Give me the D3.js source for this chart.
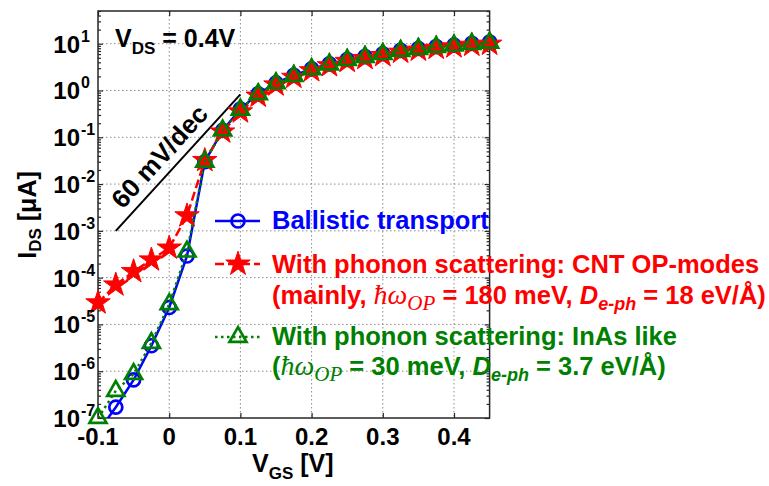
<!DOCTYPE html>
<html>
<head>
<meta charset="utf-8">
<script src="https://cdn.jsdelivr.net/npm/d3@7"></script>
<style>
  body { margin: 0; background: #fff; }
  svg { display: block; font-family: "Liberation Sans", Arial, sans-serif; font-weight: bold; }
  text { white-space: pre; }
</style>
</head>
<body>
<svg id="chart" width="769" height="486"></svg>
<script>
// gate voltage [V]
const vgs = [-0.1, -0.075, -0.05, -0.025, 0, 0.025, 0.05, 0.075, 0.1, 0.125, 0.15, 0.175,
  0.2, 0.225, 0.25, 0.275, 0.3, 0.325, 0.35, 0.375, 0.4, 0.425, 0.45];

// drain current [uA]
const ballistic = [5e-8, 1.7e-7, 6.5e-7, 3.5e-6, 2.3e-5, 2.9e-4, 3.0e-2, 0.14, 0.40, 0.85,
  1.45, 2.1, 2.9, 3.7, 4.6, 5.3, 6.1, 7.2, 7.9, 8.7, 9.3, 10.2, 10.8];
const cntPhonon = [2.9e-5, 7.0e-5, 1.35e-4, 2.4e-4, 4.3e-4, 2.1e-3, 3.2e-2, 0.13, 0.35, 0.76,
  1.32, 1.92, 2.65, 3.4, 4.2, 4.85, 5.6, 6.6, 7.3, 8.0, 8.6, 9.3, 9.8];
const inasPhonon = [1.0e-7, 3.8e-7, 8.7e-7, 4.0e-6, 2.7e-5, 3.6e-4, 3.0e-2, 0.14, 0.39, 0.83,
  1.42, 2.05, 2.85, 3.6, 4.5, 5.2, 6.0, 7.0, 7.7, 8.5, 9.1, 9.9, 10.5];

// 60 mV/dec guide line
const slopeVgs = [-0.075, 0.1];
const slopeIds = [1e-3, 0.825];

const xTicks = [-0.1, 0, 0.1, 0.2, 0.3, 0.4];
const xTickLabels = ["-0.1", "0", "0.1", "0.2", "0.3", "0.4"];
const yExponents = [-7, -6, -5, -4, -3, -2, -1, 0, 1];

const MARGIN = { left: 98, right: 769 - 489.6, top: 11, bottom: 486 - 418 };
const W = 769, H = 486;

const series = [
  { key: "ballistic", values: ballistic, color: "#0000ff", dash: null, marker: "circle" },
  { key: "cnt", values: cntPhonon, color: "#ff0000", dash: "9,4", marker: "star" },
  { key: "inas", values: inasPhonon, color: "#008000", dash: "2.5,3.5", marker: "triangle" }
];

const svg = d3.select("#chart");

const x = d3.scaleLinear()
  .domain([-0.1, 0.45])
  .range([MARGIN.left, W - MARGIN.right]);
const y = d3.scaleLog()
  .domain([1e-7, 50])
  .range([H - MARGIN.bottom, MARGIN.top]);

const [x0, x1] = x.range();
const [y0, y1] = y.range();

svg.append("defs").append("clipPath").attr("id", "plot-clip")
  .append("rect")
  .attr("x", x0).attr("y", y1)
  .attr("width", x1 - x0).attr("height", y0 - y1);

// grid
const grid = svg.append("g").attr("class", "grid")
  .attr("stroke", "#8c8c8c").attr("stroke-width", 1).attr("stroke-dasharray", "1.5,2.5");
grid.selectAll("line.v")
  .data(xTicks.filter(d => d > -0.1))
  .join("line")
  .attr("class", "v")
  .attr("x1", d => x(d)).attr("x2", d => x(d))
  .attr("y1", y1).attr("y2", y0);
grid.selectAll("line.h")
  .data(yExponents.filter(e => e > -7).map(e => Math.pow(10, e)))
  .join("line")
  .attr("class", "h")
  .attr("x1", x0).attr("x2", x1)
  .attr("y1", d => y(d)).attr("y2", d => y(d));

// box
svg.append("rect")
  .attr("x", x0).attr("y", y1)
  .attr("width", x1 - x0).attr("height", y0 - y1)
  .attr("fill", "none").attr("stroke", "#262626").attr("stroke-width", 1.5);

// ticks (inward, all four sides)
const majorY = yExponents.map(e => Math.pow(10, e));
const minorY = y.ticks().filter(d => Math.abs(Math.log10(d) - Math.round(Math.log10(d))) > 1e-6);

const tickAxis = (axis, tx, ty) => {
  const g = svg.append("g").attr("transform", `translate(${tx},${ty})`).call(axis);
  g.select(".domain").remove();
  g.selectAll("line").attr("stroke", "#262626").attr("stroke-width", 1.2);
  return g;
};
tickAxis(d3.axisBottom(x).tickValues(xTicks).tickSize(-5).tickFormat(""), 0, y0);
tickAxis(d3.axisTop(x).tickValues(xTicks).tickSize(-5).tickFormat(""), 0, y1);
tickAxis(d3.axisLeft(y).tickValues(majorY).tickSize(-5).tickFormat(""), x0, 0);
tickAxis(d3.axisLeft(y).tickValues(minorY).tickSize(-3).tickFormat(""), x0, 0);
tickAxis(d3.axisRight(y).tickValues(majorY).tickSize(-5).tickFormat(""), x1, 0);
tickAxis(d3.axisRight(y).tickValues(minorY).tickSize(-3).tickFormat(""), x1, 0);

// 60 mV/dec guide
svg.append("line")
  .attr("x1", x(slopeVgs[0])).attr("y1", y(slopeIds[0]))
  .attr("x2", x(slopeVgs[1])).attr("y2", y(slopeIds[1]))
  .attr("stroke", "#000").attr("stroke-width", 2);

{
  const ax = x(slopeVgs[0]), ay = y(slopeIds[0]);
  const bx = x(slopeVgs[1]), by = y(slopeIds[1]);
  const len = Math.hypot(bx - ax, by - ay);
  const ux = (bx - ax) / len, uy = (by - ay) / len;
  const nx = uy, ny = -ux; // normal pointing up-left
  const angle = Math.atan2(by - ay, bx - ax) * 180 / Math.PI;
  const cx = (ax + bx) / 2 - 8 * ux + 9 * nx;
  const cy = (ay + by) / 2 - 8 * uy + 9 * ny;
  svg.append("text")
    .attr("transform", `translate(${cx},${cy}) rotate(${angle})`)
    .attr("text-anchor", "middle")
    .attr("font-size", 26)
    .text("60 mV/dec");
}

// series
const markerPath = {
  circle: d3.symbol().type(d3.symbolCircle).size(Math.PI * 6.5 * 6.5)(),
  star: d3.symbol().type(d3.symbolStar).size(185)(),
  triangle: d3.symbol().type(d3.symbolTriangle).size(125)()
};

const line = d3.line()
  .x(d => x(d[0]))
  .y(d => y(d[1]));

const drawMarker = (sel, s) =>
  sel.attr("d", markerPath[s.marker])
    .attr("fill", s.marker === "star" ? s.color : "none")
    .attr("stroke", s.color)
    .attr("stroke-width", s.marker === "star" ? 1 : 2.7)
    .attr("stroke-linejoin", "miter");

series.forEach(s => {
  const pts = vgs.map((v, i) => [v, s.values[i]]);
  const g = svg.append("g").attr("class", `series-${s.key}`);
  g.append("path")
    .attr("clip-path", "url(#plot-clip)")
    .attr("d", line(pts))
    .attr("fill", "none")
    .attr("stroke", s.color)
    .attr("stroke-width", 2.5)
    .attr("stroke-dasharray", s.dash);
  g.selectAll("path.mk")
    .data(pts.filter(d => d[1] >= 0.999e-7))
    .join("path")
    .attr("class", "mk")
    .attr("transform", d => `translate(${x(d[0])},${y(d[1])})`)
    .call(drawMarker, s);
});

// tick labels
svg.append("g")
  .selectAll("text")
  .data(xTicks)
  .join("text")
  .attr("x", d => x(d))
  .attr("y", y0 + 27)
  .attr("text-anchor", "middle")
  .attr("font-size", 24)
  .text((d, i) => xTickLabels[i]);

const yl = svg.append("g")
  .selectAll("g")
  .data(yExponents)
  .join("g")
  .attr("transform", d => `translate(${x0 - 18},${y(Math.pow(10, d)) + 9})`);
yl.append("text")
  .attr("text-anchor", "end")
  .attr("font-size", 24)
  .text("10");
yl.append("text")
  .attr("x", 1)
  .attr("y", -11)
  .attr("font-size", 16)
  .text(d => String(d));

// axis titles
const xt = svg.append("text").attr("x", 252).attr("y", 472).attr("font-size", 25);
xt.append("tspan").text("V");
xt.append("tspan").attr("font-size", 17).attr("dy", 7).text("GS");
xt.append("tspan").attr("dy", -7).text(" [V]");

const ytl = svg.append("text")
  .attr("transform", "translate(36,215) rotate(-90)")
  .attr("text-anchor", "middle")
  .attr("font-size", 25);
ytl.append("tspan").text("I");
ytl.append("tspan").attr("font-size", 17).attr("dy", 5).text("DS");
ytl.append("tspan").attr("dy", -5).text(" [\u03bcA]");

const vds = svg.append("text").attr("x", 115).attr("y", 47).attr("font-size", 25);
vds.append("tspan").text("V");
vds.append("tspan").attr("font-size", 17).attr("dy", 7).text("DS");
vds.append("tspan").attr("dy", -7).text(" = 0.4V");

// legend
const legend = svg.append("g").attr("class", "legend");
const legendRows = [
  { s: series[0], lineY: 221 },
  { s: series[1], lineY: 264 },
  { s: series[2], lineY: 337 }
];
legendRows.forEach(({ s, lineY }) => {
  legend.append("line")
    .attr("x1", 215).attr("x2", 260)
    .attr("y1", lineY).attr("y2", lineY)
    .attr("stroke", s.color).attr("stroke-width", 2.5)
    .attr("stroke-dasharray", s.dash);
  legend.append("path")
    .attr("transform", `translate(238,${lineY})`)
    .call(drawMarker, s);
});

const addText = (yPos, color) =>
  legend.append("text").attr("x", 272).attr("y", yPos).attr("fill", color).attr("font-size", 25.5);

addText(229, series[0].color).text("Ballistic transport");
addText(273, series[1].color).text("With phonon scattering: CNT OP-modes");

const paramLine = (yPos, color, lead, energy, coupling) => {
  const t = addText(yPos, color);
  t.append("tspan").text(lead);
  t.append("tspan").attr("font-family", "'Liberation Serif', 'Times New Roman', serif")
    .attr("font-style", "italic").attr("font-weight", "normal").attr("font-size", 28).text("\u0127\u03c9");
  t.append("tspan").attr("font-family", "'Liberation Serif', 'Times New Roman', serif")
    .attr("font-style", "italic").attr("font-weight", "normal").attr("font-size", 21)
    .attr("dy", 6).text("OP");
  t.append("tspan").attr("dy", -6).text(` = ${energy} meV, `);
  t.append("tspan").attr("font-style", "italic").text("D");
  t.append("tspan").attr("font-style", "italic").attr("font-size", 18).attr("dy", 6).text("e-ph");
  t.append("tspan").attr("dy", -6).text(` = ${coupling} eV/\u00c5)`);
};
paramLine(304, series[1].color, "(mainly, ", "180", "18");
addText(345, series[2].color).text("With phonon scattering: InAs like");
paramLine(375, series[2].color, "(", "30", "3.7");
</script>
</body>
</html>
